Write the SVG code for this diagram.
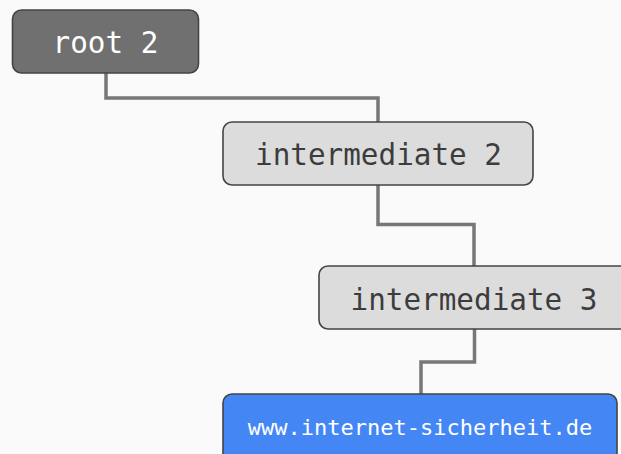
<svg xmlns="http://www.w3.org/2000/svg" width="621" height="454" viewBox="0 0 621 454">
  <style>
    .box { stroke: #444444; stroke-width: 1.6; }
    .root { fill: #707070; }
    .mid { fill: #dcdcdc; }
    .leaf { fill: #4487f4; }
    .lbl { font-family: "DejaVu Sans Mono", "Liberation Mono", monospace; text-anchor: middle; }
    .big { font-size: 29.3px; }
    .small { font-size: 22px; }
    .light { fill: #ffffff; }
    .dark { fill: #3c3c3c; }
    .link { fill: none; stroke: #777777; stroke-width: 3.5; }
  </style>
  <rect width="621" height="454" fill="#fafafa"/>
  <g id="connectors">
    <polyline class="link" points="106,73 106,98 378,98 378,122"/>
    <polyline class="link" points="378,185 378,224.5 474,224.5 474,266"/>
    <polyline class="link" points="474.5,329 474.5,362 421,362 421,394"/>
  </g>
  <g id="root-2">
    <rect class="box root" x="12.5" y="10" width="186" height="63" rx="9"/>
    <text class="lbl big light" x="105.5" y="53">root 2</text>
  </g>
  <g id="intermediate-2">
    <rect class="box mid" x="223" y="122" width="310" height="63" rx="9"/>
    <text class="lbl big dark" x="378.5" y="165">intermediate 2</text>
  </g>
  <g id="intermediate-3">
    <rect class="box mid" x="319" y="266" width="310" height="63" rx="9"/>
    <text class="lbl big dark" x="474" y="309.5">intermediate 3</text>
  </g>
  <g id="leaf">
    <rect class="box leaf" x="223" y="394" width="394" height="70" rx="9"/>
    <text class="lbl small light" x="420" y="435">www.internet-sicherheit.de</text>
  </g>
</svg>
